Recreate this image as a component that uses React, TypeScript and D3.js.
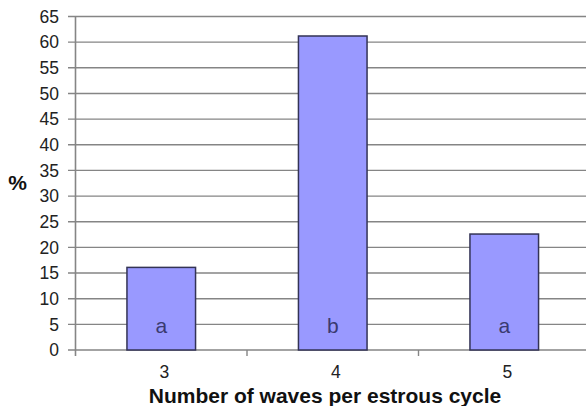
import React from "react";
import * as d3 from "d3";

const categories = ["3", "4", "5"];
const values = [16.1, 61.2, 22.6];
const letters = ["a", "b", "a"];
const yTicks = [0, 5, 10, 15, 20, 25, 30, 35, 40, 45, 50, 55, 60, 65];

export default function App() {
  const W = 586, H = 406;
  const left = 75.5, right = 590, top = 16.5, bottom = 350;
  const x = d3.scaleBand<string>().domain(categories).range([left, right]).padding(0);
  const y = d3.scaleLinear().domain([0, 65]).range([bottom, top]);
  const bw = x.bandwidth() * 0.4;
  const font = "Arial, 'Liberation Sans', Helvetica, sans-serif";
  const grid = "#858585";
  return (
    <svg width={W} height={H} style={{ position: "absolute", left: 0, top: 0, background: "#fff" }} fontFamily={font}>
      {yTicks.map((t) => (
        <g key={t}>
          <line x1={68} x2={right} y1={y(t)} y2={y(t)} stroke={grid} strokeWidth={1.4} />
          <text x={59} y={y(t)} dy="0.36em" textAnchor="end" fontSize={17.5} fill="#222">{t}</text>
        </g>
      ))}
      <line x1={left} x2={left} y1={top} y2={bottom + 6} stroke={grid} strokeWidth={1.6} />
      {categories.slice(1).map((c) => (
        <line key={c} x1={x(c)!} x2={x(c)!} y1={bottom} y2={bottom + 6} stroke={grid} strokeWidth={1.4} />
      ))}
      {categories.map((c, i) => {
        const cx = x(c)! + x.bandwidth() / 2;
        return (
          <g key={c}>
            <rect x={cx - bw / 2} y={y(values[i])} width={bw} height={bottom - y(values[i])} fill="#9999ff" stroke="#333355" strokeWidth={1.5} />
            <text x={cx} y={333} textAnchor="middle" fontSize={21} fill="#3a3a70">{letters[i]}</text>
            <text x={cx + 3} y={378} textAnchor="middle" fontSize={17.5} fill="#222">{c}</text>
          </g>
        );
      })}
      <text x={325} y={403} textAnchor="middle" fontSize={21} fontWeight="bold" fill="#111">Number of waves per estrous cycle</text>
      <text x={17.5} y={190} textAnchor="middle" fontSize={21} fontWeight="bold" fill="#111">%</text>
    </svg>
  );
}
